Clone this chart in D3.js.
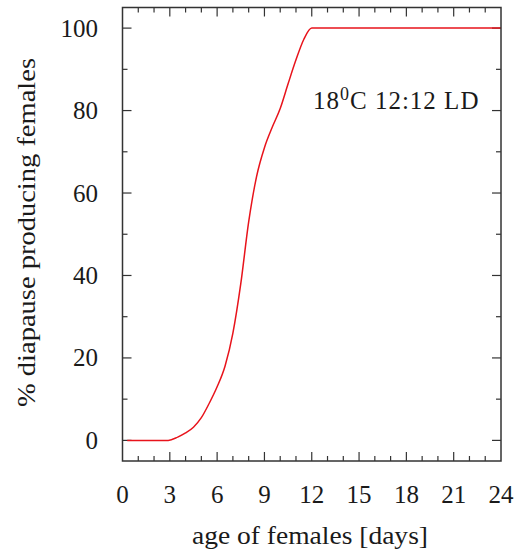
<!DOCTYPE html>
<html>
<head>
<meta charset="utf-8">
<script src="https://cdn.jsdelivr.net/npm/d3@7"></script>
<style>
  html, body { margin: 0; padding: 0; background: #fff; }
</style>
</head>
<body>
<svg id="chart" width="514" height="551"></svg>
<script>
// Age of females (days) and share producing diapause eggs (%)
const ageDays = [0.3, 1, 2, 2.9, 3.5, 4, 4.5, 5, 5.5, 6, 6.5, 7, 7.5, 8, 8.5, 9, 9.5, 10, 10.5, 11, 11.5, 12, 13, 15, 18, 21, 24];
const diapausePct = [0, 0, 0, 0, 0.8, 1.8, 3.2, 5.5, 9, 13, 18, 26, 38, 53, 64, 71, 76, 80.5, 86.5, 92.3, 97.3, 100, 100, 100, 100, 100, 100];

const xMajorTicks = [0, 3, 6, 9, 12, 15, 18, 21, 24];
const yMajorTicks = [0, 20, 40, 60, 80, 100];
const conditionLabel = ["18", "0", "C 12:12 LD"];

const FONT = '"Liberation Serif", "Times New Roman", serif';
const TEXT_COLOR = "#1a1a1a";

const margin = { left: 122.5, right: 13, top: 7.5, bottom: 90 };
const W = 514, H = 551;
const svg = d3.select("#chart");

const x = d3.scaleLinear().domain([0, 24]).range([margin.left, W - margin.right]);
const y = d3.scaleLinear().domain([-5, 105]).range([H - margin.bottom, margin.top]);

const x0 = x.range()[0], x1 = x.range()[1];
const y0 = y.range()[0], y1 = y.range()[1];
const frameColor = "#333";

// minor and major ticks, mirrored on all four sides
const xMinor = d3.range(0, 24.001, 1);
const yMinor = d3.range(0, 100.001, 10);
const tickG = svg.append("g").attr("stroke", frameColor).attr("stroke-width", 1.2);
xMinor.forEach(v => {
  const len = xMajorTicks.includes(v) ? 9 : 5;
  if (v === 0 || v === 24) return;
  tickG.append("line").attr("x1", x(v)).attr("x2", x(v)).attr("y1", y0).attr("y2", y0 - len);
  tickG.append("line").attr("x1", x(v)).attr("x2", x(v)).attr("y1", y1).attr("y2", y1 + len);
});
yMinor.forEach(v => {
  const len = yMajorTicks.includes(v) ? 9 : 5;
  tickG.append("line").attr("y1", y(v)).attr("y2", y(v)).attr("x1", x0).attr("x2", x0 + len);
  tickG.append("line").attr("y1", y(v)).attr("y2", y(v)).attr("x1", x1).attr("x2", x1 - len);
});

// curve
const line = d3.line().x((d, i) => x(ageDays[i])).y((d, i) => y(diapausePct[i])).curve(d3.curveMonotoneX);
svg.append("path").datum(diapausePct).attr("d", line)
  .attr("fill", "none").attr("stroke", "#e8131b").attr("stroke-width", 1.5);

// frame
svg.append("rect").attr("x", x0).attr("y", y1).attr("width", x1 - x0).attr("height", y0 - y1)
  .attr("fill", "none").attr("stroke", frameColor).attr("stroke-width", 1.5);

function styled(sel, size) {
  return sel.style("font-family", FONT).style("fill", TEXT_COLOR).attr("font-size", size);
}

// tick labels
styled(svg.append("g").selectAll("text").data(xMajorTicks).join("text"), 25)
  .attr("x", d => x(d)).attr("y", 503).attr("text-anchor", "middle").text(d => d);
styled(svg.append("g").selectAll("text").data(yMajorTicks).join("text"), 25)
  .attr("x", 98).attr("y", d => y(d) + 8.5).attr("text-anchor", "end").text(d => d);

// axis titles
styled(svg.append("text"), 25).attr("x", 310).attr("y", 544).attr("text-anchor", "middle")
  .attr("textLength", 236).attr("lengthAdjust", "spacingAndGlyphs")
  .text("age of females [days]");
styled(svg.append("text"), 25).attr("transform", "translate(35,232.5) rotate(-90)")
  .attr("text-anchor", "middle")
  .attr("textLength", 349).attr("lengthAdjust", "spacingAndGlyphs")
  .text("% diapause producing females");

// condition label
const lab = styled(svg.append("text"), 25).attr("x", 313).attr("y", 108.5)
  .style("letter-spacing", "1px");
lab.append("tspan").text(conditionLabel[0]);
lab.append("tspan").attr("font-size", 18).attr("dy", -9).text(conditionLabel[1]);
lab.append("tspan").attr("dy", 9).text(conditionLabel[2]);
</script>
</body>
</html>
